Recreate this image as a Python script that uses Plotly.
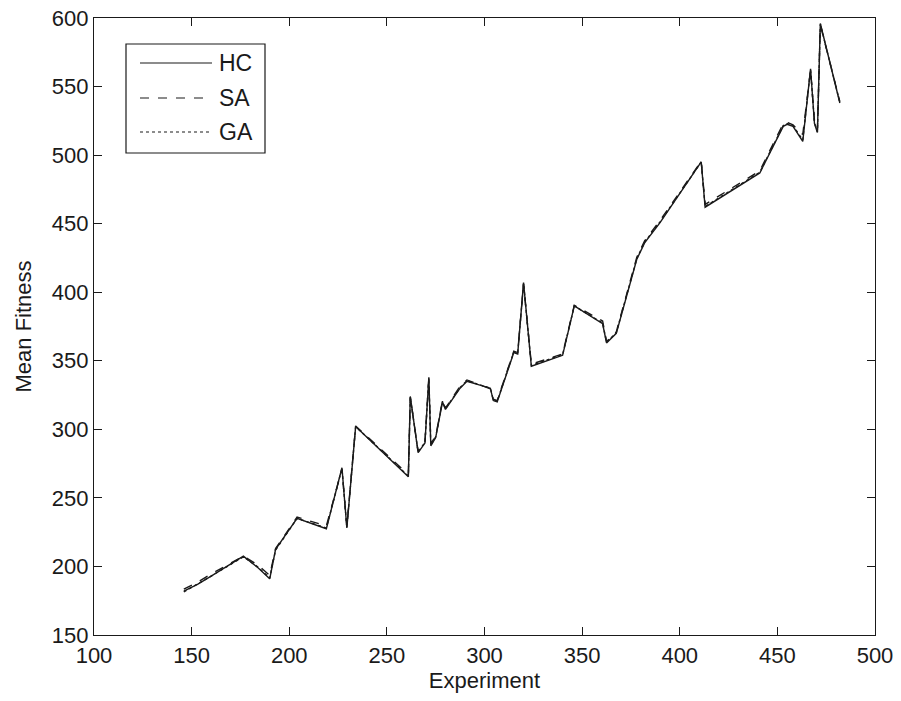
import plotly.graph_objects as go

# Experiment (x) values and mean fitness for each algorithm
experiment = [146, 153, 160, 176.5, 184, 190, 193, 204, 219, 227, 229.5, 234, 261, 262, 266,
              269.5, 271.5, 272.5, 275, 278.5, 280, 287.5, 291, 303, 304.5, 306.5, 315, 317,
              320, 324, 340, 346, 360.5, 362.5, 367.5, 378, 382, 390, 411, 413, 441, 453,
              455, 458, 463, 467, 469, 470.5, 472, 482]
hc = [182, 187, 193, 207.5, 199, 191, 212.5, 235, 227.5, 272, 228, 302, 265.5, 324, 283,
      290, 338, 288, 294, 320, 314.5, 330, 335, 330, 321, 320, 356, 355,
      407, 346, 354, 390, 377, 363, 370, 424, 436, 451, 495, 462, 487, 521,
      522.5, 521, 510, 563, 523, 516.5, 596, 538]
sa = [183.5, 188.5, 194.5, 207.5, 201, 193.5, 213, 236, 229.5, 271, 229, 302.5, 267, 323.5, 284,
      291, 337, 289.5, 295, 321, 315.5, 331.5, 336, 329.5, 322, 321, 357, 356,
      406, 347.5, 355, 390.5, 379, 364, 371, 425.5, 437.5, 452.5, 495.5, 464, 488.5, 523,
      524, 522, 515, 562, 525, 518, 595, 539]
ga = [181.5, 187, 193, 207, 199.5, 191.5, 212, 235, 228, 271.5, 228.5, 302, 266, 323.5, 283.5,
      290.5, 337.5, 288.5, 294.5, 320.5, 315, 330.5, 335.5, 330, 321.5, 320.5, 356.5, 355.5,
      406.5, 346.5, 354.5, 390, 377.5, 363.5, 370.5, 424.5, 436.5, 451.5, 495, 462.5, 487.5, 521.5,
      523, 521.5, 511, 562.5, 523.5, 517, 595.5, 538.5]
series_names = ["HC", "SA", "GA"]
x_ticks = [100, 150, 200, 250, 300, 350, 400, 450, 500]
y_ticks = [150, 200, 250, 300, 350, 400, 450, 500, 550, 600]

dashes = {"HC": "solid", "SA": "dash", "GA": "dot"}
data = {"HC": hc, "SA": sa, "GA": ga}

fig = go.Figure()
for name in ["GA", "SA", "HC"]:
    fig.add_trace(go.Scatter(
        x=experiment, y=data[name], mode="lines", name=name,
        line=dict(color="#1a1a1a", width=1.4, dash=dashes[name]),
        showlegend=False, hoverinfo="skip",
    ))

font_family = "Liberation Sans, Arial, sans-serif"
FS = 22
axis_common = dict(
    showgrid=False, zeroline=False, showline=True, linecolor="#1a1a1a", linewidth=1.2,
    mirror="ticks", ticks="inside", ticklen=8, tickwidth=1, tickcolor="#1a1a1a",
    ticklabeloverflow="allow", automargin=False,
    tickfont=dict(family=font_family, size=FS, color="#1a1a1a"),
)
fig.update_xaxes(range=[100, 500], tickvals=x_ticks, ticktext=[str(v) for v in x_ticks],
                 title=dict(text="Experiment", font=dict(family=font_family, size=FS, color="#1a1a1a"), standoff=6),
                 **axis_common)
fig.update_yaxes(range=[150, 600], tickvals=y_ticks, ticktext=[str(v) for v in y_ticks],
                 title=dict(text="Mean Fitness", font=dict(family=font_family, size=FS, color="#1a1a1a"), standoff=14),
                 **axis_common)

W, H = 901, 701
ml, mr, mt, mb = 94, 26, 18, 66
pw, ph = W - ml - mr, H - mt - mb
def px(x): return (x - ml) / pw
def py(y): return 1 - (y - mt) / ph

# Manual MATLAB-style legend box (screen pixel positions)
fig.add_shape(type="rect", xref="paper", yref="paper",
              x0=px(126), x1=px(265), y0=py(153), y1=py(44),
              line=dict(color="#1a1a1a", width=1.2), fillcolor="white", layer="above")
rows = [63, 98, 132]
for name, yy in zip(series_names, rows):
    fig.add_shape(type="line", xref="paper", yref="paper",
                  x0=px(140), x1=px(212), y0=py(yy), y1=py(yy),
                  line=dict(color="#1a1a1a", width=1.2, dash=dashes[name]), layer="above")
    fig.add_annotation(xref="paper", yref="paper", x=px(217), y=py(yy), text=name,
                       showarrow=False, xanchor="left", yanchor="middle",
                       font=dict(family=font_family, size=23, color="#1a1a1a"))

fig.update_layout(
    width=W, height=H, margin=dict(l=ml, r=mr, t=mt, b=mb),
    paper_bgcolor="white", plot_bgcolor="white", hovermode=False,
)
fig.write_html("out.html", config={"displayModeBar": False, "staticPlot": True},
               post_script="document.body.style.margin='0';document.body.style.overflow='hidden';")
